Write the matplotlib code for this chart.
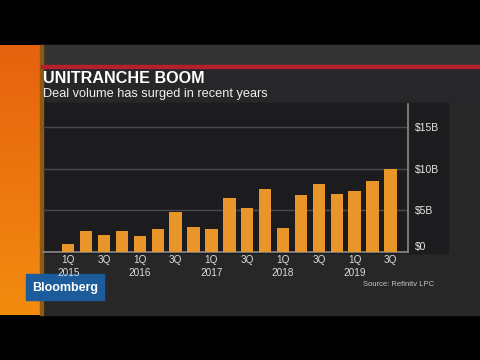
import numpy as np
import matplotlib
matplotlib.use("Agg")
import matplotlib.pyplot as plt
from matplotlib.patches import Rectangle

# quarterly unitranche deal volume, $ billions (1Q 2015 .. 3Q 2019)
quarters = ["1Q", "2Q", "3Q", "4Q"] * 4 + ["1Q", "2Q", "3Q"]
years = [y for y in ["2015", "2016", "2017", "2018", "2019"] for _ in range(4)][:19]
volume = [1.0, 2.55, 2.05, 2.5, 1.9, 2.8, 4.8, 3.05, 2.8, 6.5,
          5.25, 7.6, 2.9, 6.8, 8.2, 6.95, 7.3, 8.55, 9.95]
ytick_vals = [0, 5, 10, 15]
ytick_labels = ["$0", "$5B", "$10B", "$15B"]

plt.rcParams["font.family"] = ["Liberation Sans", "DejaVu Sans"]

fig = plt.figure(figsize=(4.8, 3.6), dpi=100, facecolor="black")

# background frame drawn in pixel coordinates
bg = fig.add_axes([0, 0, 1, 1])
bg.axis("off")
bg.add_patch(Rectangle((41, 45), 439, 270, color="#272727"))
bg.add_patch(Rectangle((41, 45), 439, 21, color="#333333"))
bg.add_patch(Rectangle((41, 67), 439, 36, color="#27272a"))
bg.add_patch(Rectangle((43, 103), 405, 150, color="#1c1c1e"))
# orange side strip
grad = np.linspace(0, 1, 100).reshape(-1, 1)
bg.imshow(grad, extent=(0, 41, 315, 45), aspect="auto",
          cmap=matplotlib.colors.LinearSegmentedColormap.from_list("o", ["#e6620e", "#f28c10"]))
bg.add_patch(Rectangle((40, 45), 2.5, 270, color="#8c5a12"))
bg.add_patch(Rectangle((41, 65), 439, 2.5, color="#b3222b"))
bg.set_xlim(0, 480)
bg.set_ylim(360, 0)

bg.text(43, 78.5, "UNITRANCHE BOOM", color="white", fontsize=11.6,
        fontweight="bold", va="center", ha="left")
bg.text(43, 94, "Deal volume has surged in recent years", color="#f0f0f0",
        fontsize=9.2, va="center", ha="left")

bg.add_patch(Rectangle((26, 274), 78, 26, color="#1d5c9b"))
bg.text(65, 287.5, "Bloomberg", color="white", fontsize=9, fontweight="bold",
        va="center", ha="center")
bg.text(363, 284.5, "Source: Refinitv LPC", color="#c4c4c4", fontsize=5.5,
        va="center", ha="left")

# chart
ax = fig.add_axes([43 / 480, 1 - 252 / 360, 365 / 480, 148 / 360])
ax.patch.set_alpha(0)
x = np.arange(len(volume))
ax.bar(x, volume, width=0.69, color="#e8952a", zorder=3)
ax.set_xlim(-1.41, 18.98)
ax.set_ylim(0, 17.8)

ax.set_yticks(ytick_vals)
ax.set_yticklabels(ytick_labels)
ax.yaxis.tick_right()
ax.tick_params(axis="y", length=0, pad=5, labelsize=7.5, labelcolor="#e6e6e6")
ax.get_yticklabels()[0].set_va("bottom")
for v in ytick_vals[1:]:
    ax.axhline(v, color="#4a4a4c", lw=1, zorder=1)

xlabels = []
for q, yr in zip(quarters, years):
    xlabels.append(q + "\n" + yr if q == "1Q" else q)
ax.set_xticks(x[::2])
ax.set_xticklabels(xlabels[::2], linespacing=1.35)
ax.tick_params(axis="x", length=0, pad=2, labelsize=7.2, labelcolor="#dcdcdc")

for s in ["top", "left"]:
    ax.spines[s].set_visible(False)
for s in ["right", "bottom"]:
    ax.spines[s].set_color("#8a8a8a")
    ax.spines[s].set_linewidth(1.2)

fig.savefig("out.png", dpi=100, facecolor="black")
